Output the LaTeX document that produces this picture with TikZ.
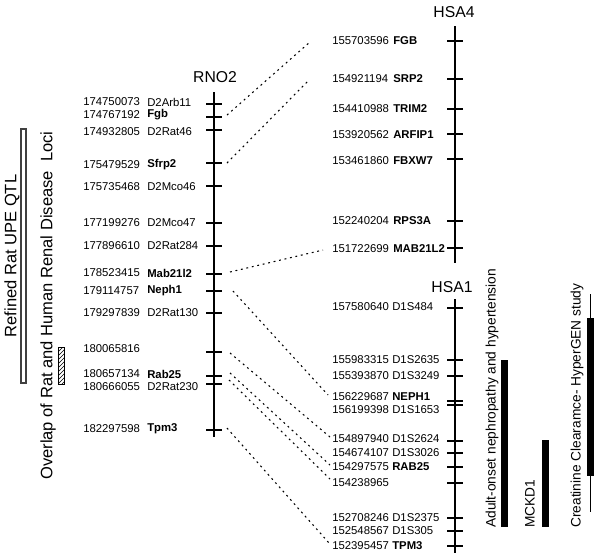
\documentclass[tikz,border=0pt]{standalone}
\usepackage{fontspec}
\setmainfont{Liberation Sans}
\usetikzlibrary{patterns}
\tikzset{
  axisline/.style={line width=1.5pt},
  tickmark/.style={line width=1.5pt},
  num/.style={font=\fontsize{8.5}{10}\selectfont, anchor=west, inner sep=0pt},
  plain/.style={num},
  gene/.style={num, font=\fontsize{8.5}{10}\selectfont\bfseries},
  link/.style={line width=0.8pt, dash pattern=on 1.4pt off 2.8pt},
  chrom/.style={font=\fontsize{11.8}{14}\selectfont, inner sep=0pt},
  vlabel/.style={rotate=90, anchor=west, inner sep=0pt, font=\fontsize{10.3}{12}\selectfont},
  biglabel/.style={rotate=90, inner sep=0pt, font=\fontsize{12.4}{15}\selectfont},
  bar/.style={line width=5.2pt},
}
\begin{document}
\begin{tikzpicture}[x=0.75pt,y=-0.75pt]
\useasboundingbox (0,0) rectangle (600,558);

% ---------- RNO2 ----------
\node[chrom] (rno) at (215,77) {RNO2};
\draw[axisline] (214,92) -- (214,437);
\foreach \ty/\ly/\n/\g/\s in {
  104/102/174750073/D2Arb11/plain,
  117/115/174767192/Fgb/gene,
  130/132/174932805/D2Rat46/plain,
  163/165/175479529/Sfrp2/gene,
  186/187/175735468/D2Mco46/plain,
  223/223/177199276/D2Mco47/plain,
  246/246/177896610/D2Rat284/plain,
  274/273/178523415/Mab21l2/gene,
  291/291/179114757/Neph1/gene,
  313/313/179297839/D2Rat130/plain,
  352/349/180065816//plain,
  376/374/180657134/Rab25/gene,
  384/387/180666055/D2Rat230/plain,
  430/429/182297598/Tpm3/gene}{
  \draw[tickmark] (206,\ty) -- (222,\ty);
  \node[num] (rn\n) at (83,\ly) {\n};
  \node[\s] (rg\n) at (147,\ly) {\g};
}

% ---------- HSA4 ----------
\node[chrom] (hsafour) at (454,12) {HSA4};
\draw[axisline] (455,26) -- (455,263);
\foreach \ty/\ly/\n/\g/\s in {
  41/41/155703596/FGB/gene,
  79/79/154921194/SRP2/gene,
  109/109/154410988/TRIM2/gene,
  134/135/153920562/ARFIP1/gene,
  159/161/153461860/FBXW7/gene,
  221/221/152240204/RPS3A/gene,
  248/249/151722699/MAB21L2/gene}{
  \draw[tickmark] (447,\ty) -- (463,\ty);
  \node[num] (hn\n) at (332,\ly) {\n};
  \node[\s] (hg\n) at (393,\ly) {\g};
}

% ---------- HSA1 ----------
\node[chrom] (hsaone) at (452,287) {HSA1};
\draw[axisline] (455,299) -- (455,553);
\foreach \ty/\ly/\n/\g/\s in {
  308/307/157580640/D1S484/plain,
  360/360/155983315/D1S2635/plain,
  376/376/155393870/D1S3249/plain,
  401/397/156229687/NEPH1/gene,
  405/410/156199398/D1S1653/plain,
  441/439/154897940/D1S2624/plain,
  453/453/154674107/D1S3026/plain,
  467/467/154297575/RAB25/gene,
  483/483/154238965//plain,
  518/518/152708246/D1S2375/plain,
  531/531/152548567/D1S305/plain,
  546/546/152395457/TPM3/gene}{
  \draw[tickmark] (447,\ty) -- (463,\ty);
  \node[num] (hn\n) at (332,\ly) {\n};
  \node[\s] (hg\n) at (392,\ly) {\g};
}

% ---------- connectors ----------
\coordinate (cFgbL) at (227,115);   \coordinate (cFgbR) at (310,42);
\coordinate (cSfrL) at (227,163);   \coordinate (cSfrR) at (308,81);
\coordinate (cMabL) at (230,272);   \coordinate (cMabR) at (323,250);
\coordinate (cNepL) at (233,291);   \coordinate (cNepR) at (328,395);
\coordinate (cUnkL) at (230,353);   \coordinate (cUnkR) at (330,437);
\coordinate (cRabL) at (230,373);   \coordinate (cRabR) at (330,465);
\coordinate (cRatL) at (229,380);   \coordinate (cRatR) at (330,479);
\coordinate (cTpmL) at (227,428);   \coordinate (cTpmR) at (329,543);
\draw[link] (cFgbL) -- (cFgbR);
\draw[link] (cSfrL) -- (cSfrR);
\draw[link] (cMabL) -- (cMabR);
\draw[link] (cNepL) -- (cNepR);
\draw[link] (cUnkL) -- (cUnkR);
\draw[link] (cRabL) -- (cRabR);
\draw[link] (cRatL) -- (cRatR);
\draw[link] (cTpmL) -- (cTpmR);

% ---------- left bars ----------
\draw[line width=0.8pt, black!75] (21,129) rectangle (26,383);
\node[biglabel] (qtl) at (12,256) {Refined Rat UPE QTL};
\draw[line width=0.6pt, pattern=north east lines] (58,347) rectangle (64,384);
\node[biglabel, anchor=west] (overlap) at (48,480) {Overlap of Rat and Human Renal Disease\ \ Loci};

% ---------- right bars ----------
\draw[bar] (504.5,360) -- (504.5,527);
\node[vlabel] (adult) at (492,528) {Adult-onset nephropathy and hypertension};
\draw[bar] (545.5,440) -- (545.5,527);
\node[vlabel] (mckd) at (530,528) {MCKD1};
\draw[line width=0.6pt] (590.5,294) -- (590.5,512);
\draw[bar] (590.5,318) -- (590.5,476);
\node[vlabel] (creat) at (577,528) {Creatinine Clearamce- HyperGEN study};
\end{tikzpicture}
\end{document}
